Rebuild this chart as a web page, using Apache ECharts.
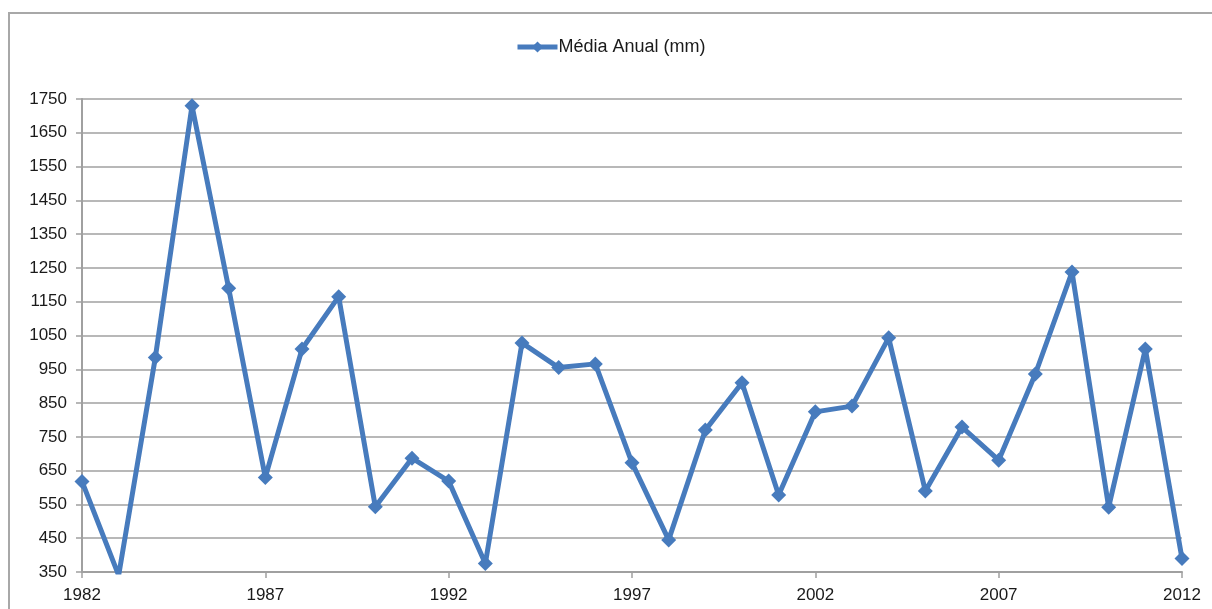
<!DOCTYPE html>
<html>
<head>
<meta charset="utf-8">
<script src="https://cdn.jsdelivr.net/npm/echarts@6/dist/echarts.min.js"></script>
<style>
    html, body { margin: 0; padding: 0; background: #fff; }
    #chart { width: 1212px; height: 609px; }
</style>
</head>
<body>
<div id="chart"></div>
<script>
    //年份
    var years = [];
    for (var y = 1982; y <= 2012; y++) {
        years.push(String(y));
    }

    //年平均降雨量 (mm)
    var mediaAnual = [
        618, 340, 985, 1730, 1190, 630, 1010, 1165, 543, 687,
        619, 375, 1028, 955, 966, 673, 445, 770, 910, 578,
        824, 841, 1043, 590, 779, 681, 936, 1238, 542, 1010,
        390
    ];

    var seriesName = 'Média Anual (mm)';

    //y轴刻度
    var yMin = 350;
    var yMax = 1750;
    var yStep = 100;

    var lineColor = '#477bbd';

    var chartObj = echarts.init(document.getElementById('chart'));

    var option = {
        animation: false,
        textStyle: {
            fontFamily: 'Liberation Sans, Arial, sans-serif'
        },
        graphic: [{
            type: 'rect',
            shape: { x: 9, y: 13, width: 1220, height: 620 },
            style: { fill: 'none', stroke: '#a8a8a8', lineWidth: 2 },
            silent: true
        }],
        legend: {
            top: 33,
            left: 510,
            itemWidth: 40,
            itemHeight: 14,
            itemGap: 2,
            lineStyle: { width: 5 },
            textStyle: {
                fontSize: 18,
                color: '#1a1a1a',
                padding: [0, 0, 0, -4]
            },
            data: [seriesName]
        },
        grid: {
            left: 82,
            right: 30,
            top: 99,
            bottom: 37,
            containLabel: false
        },
        xAxis: {
            type: 'category',
            boundaryGap: false,
            data: years,
            axisLine: {
                lineStyle: { color: '#a0a0a0', width: 2 }
            },
            axisTick: {
                show: true,
                interval: 4,
                length: 6,
                lineStyle: { color: '#a0a0a0', width: 1.5 }
            },
            axisLabel: {
                interval: 4,
                margin: 15,
                fontSize: 17,
                color: '#1a1a1a'
            },
            splitLine: { show: false }
        },
        yAxis: {
            type: 'value',
            min: yMin,
            max: yMax,
            interval: yStep,
            axisLine: {
                show: true,
                lineStyle: { color: '#a0a0a0', width: 2 }
            },
            axisTick: {
                show: true,
                length: 6,
                lineStyle: { color: '#a0a0a0', width: 1.5 }
            },
            axisLabel: {
                margin: 15,
                fontSize: 17,
                color: '#1a1a1a',
                formatter: function (v) { return String(v); }
            },
            splitLine: {
                show: true,
                lineStyle: { color: '#a0a0a0', width: 1.5 }
            }
        },
        series: [{
            name: seriesName,
            type: 'line',
            data: mediaAnual,
            symbol: 'diamond',
            symbolSize: 15,
            showAllSymbol: true,
            clip: true,
            lineStyle: {
                width: 5,
                color: lineColor
            },
            itemStyle: {
                color: lineColor
            }
        }]
    };

    chartObj.setOption(option);
</script>
</body>
</html>
